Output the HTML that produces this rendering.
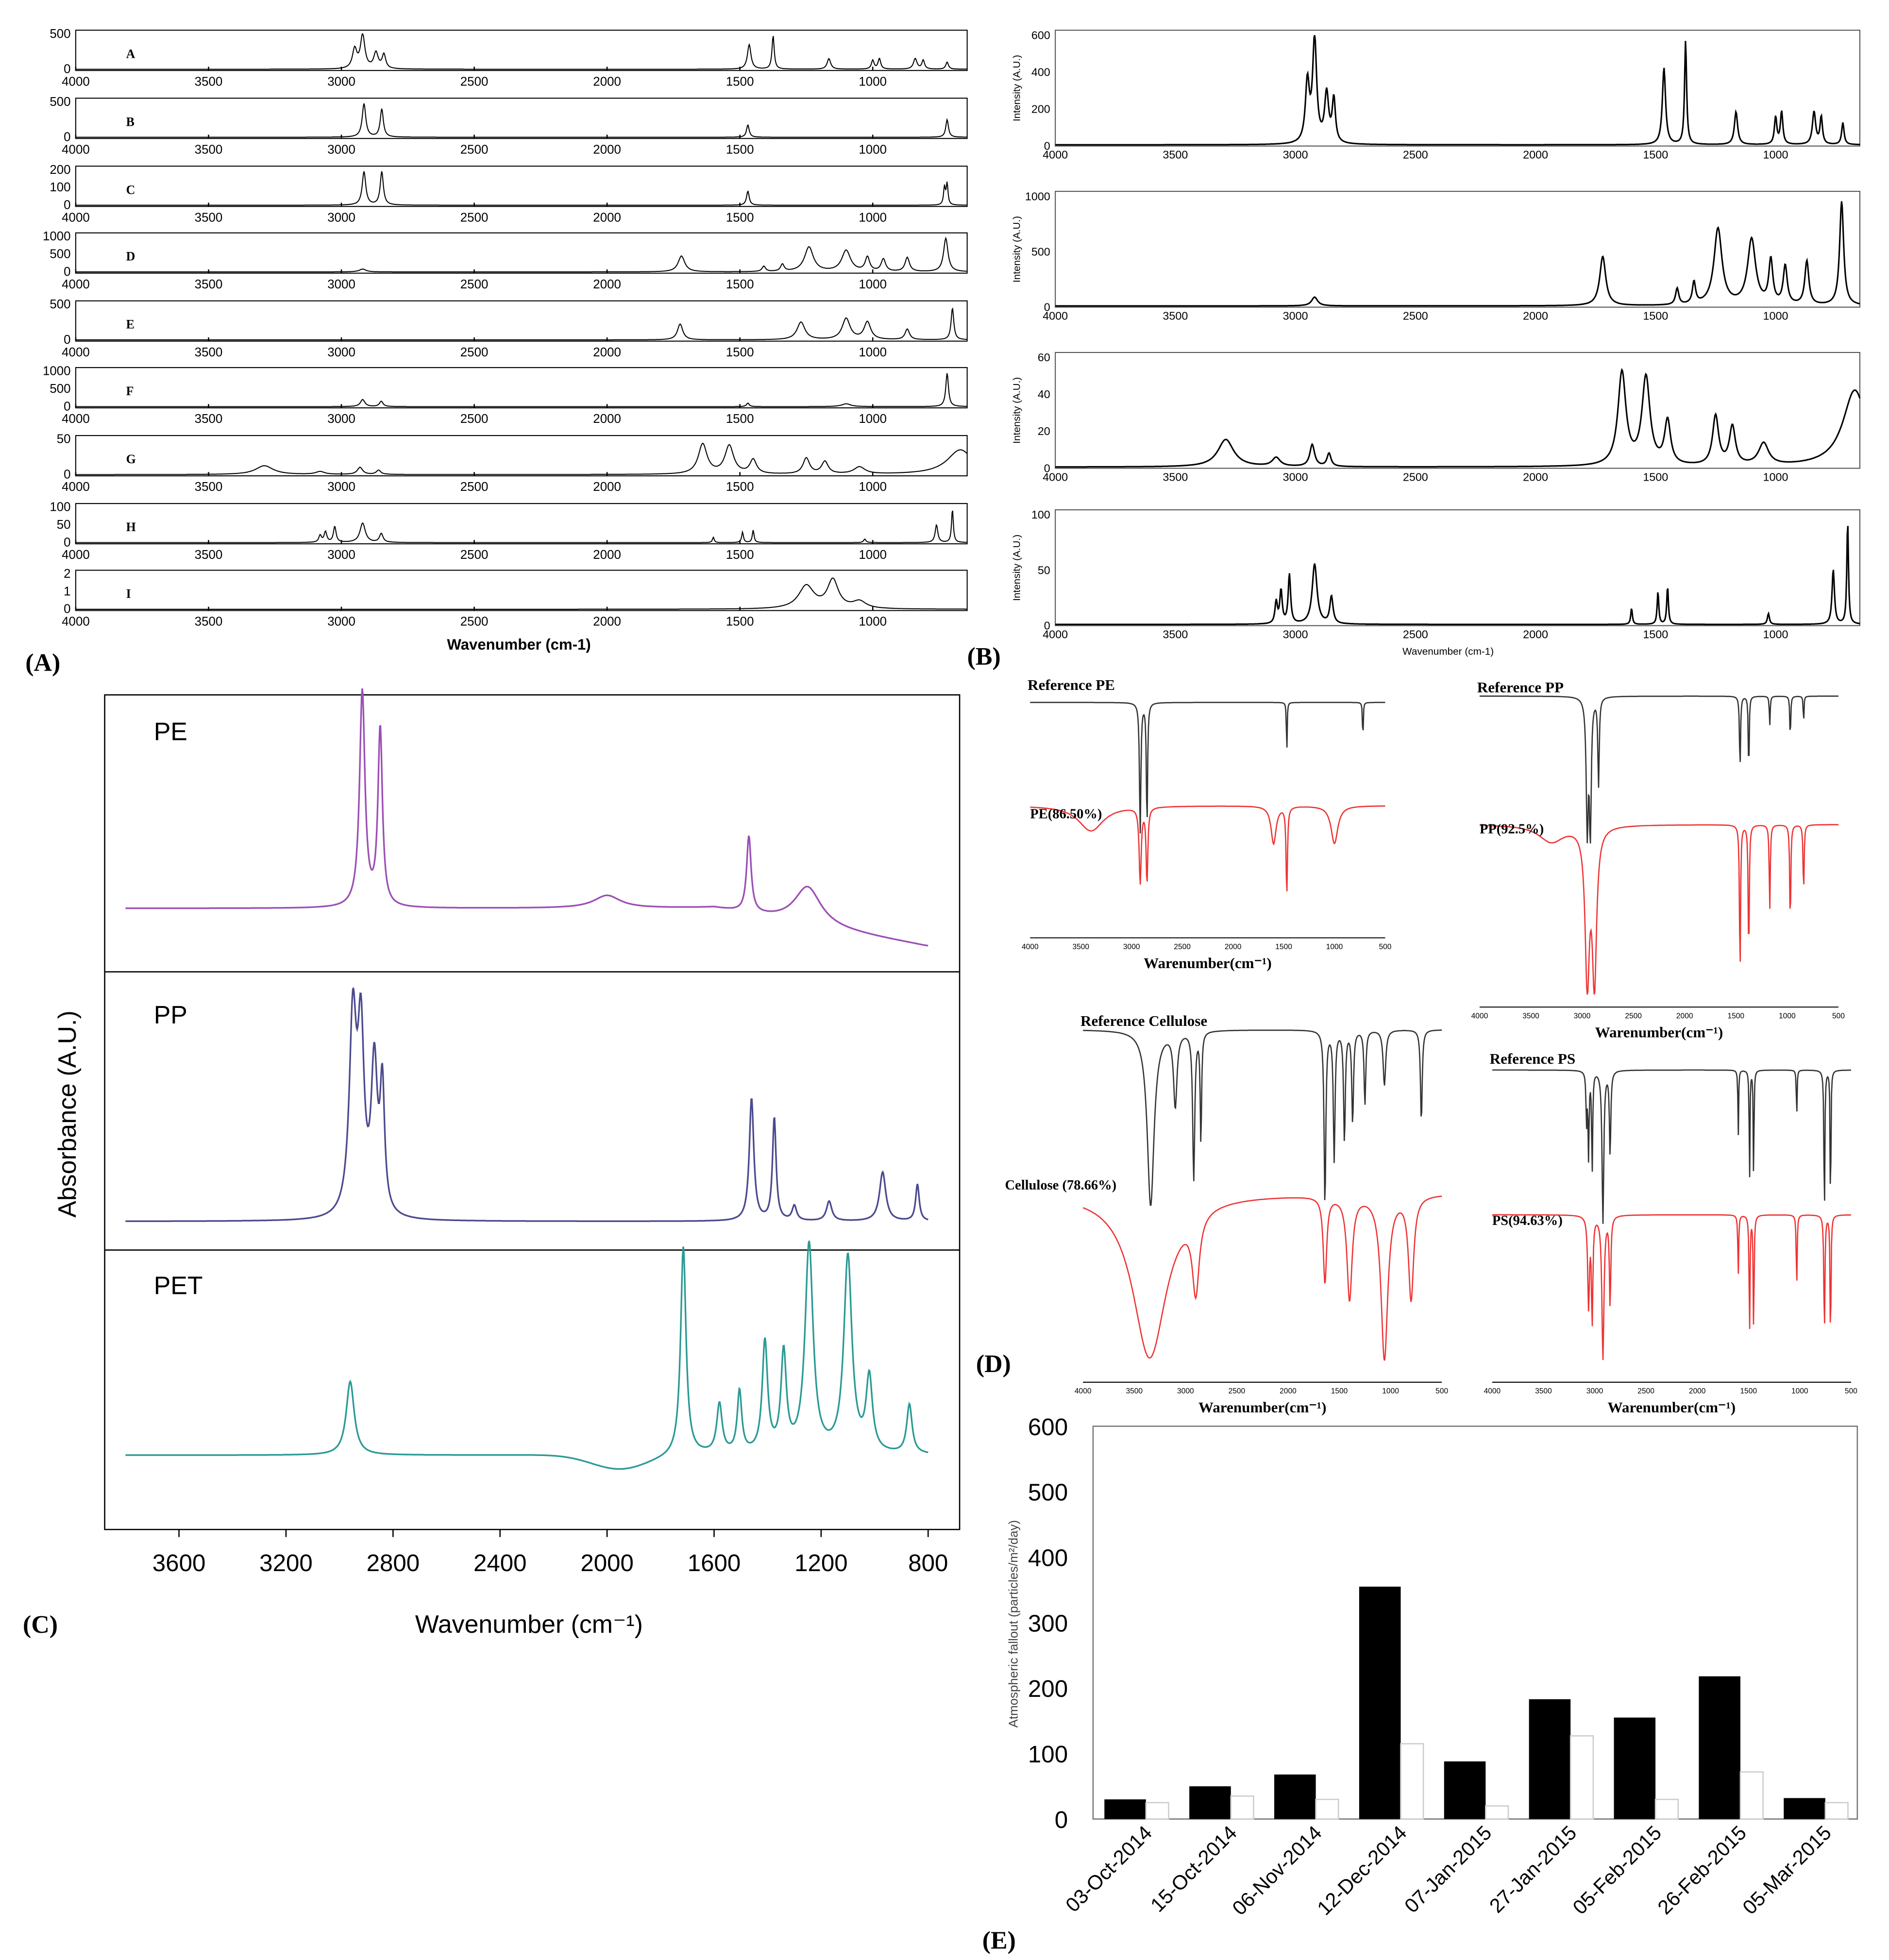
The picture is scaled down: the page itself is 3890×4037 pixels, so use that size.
<!DOCTYPE html>
<html><head><meta charset="utf-8">
<style>
html,body{margin:0;padding:0;background:#fff;}
svg{display:block;}
text{font-family:"Liberation Sans",sans-serif;}
.ser{font-family:"Liberation Serif",serif;font-weight:bold;}
</style></head>
<body>
<svg id="fig" width="3890" height="4037" viewBox="0 0 1500 1557" xmlns="http://www.w3.org/2000/svg">
<g id="root"></g>
</svg>
<script>
// ---------- DATA ----------
const specA = [[2950,0.55,10],[2920,0.95,10],[2870,0.45,10],[2840,0.4,8],[1465,0.7,8],[1375,0.95,5],[1165,0.3,8],[1000,0.25,6],[975,0.3,6],[840,0.3,8],[810,0.25,6],[720,0.2,6]];
const specB = [[2915,0.95,8],[2848,0.8,7],[1470,0.35,6],[720,0.5,6]];
const specC = [[2915,0.95,8],[2848,0.95,7],[1470,0.4,6],[730,0.5,4],[720,0.6,4]];
const specD = [[1720,0.45,15],[1410,0.15,8],[1340,0.2,8],[1240,0.7,20],[1100,0.6,20],[1020,0.4,10],[960,0.35,10],[870,0.4,10],[725,0.95,10],[2920,0.08,15]];
const specE = [[1725,0.45,12],[1270,0.5,18],[1100,0.6,18],[1020,0.5,15],[870,0.3,10],[700,0.9,6]];
const specF = [[2920,0.2,10],[2850,0.15,8],[1470,0.1,6],[1100,0.08,20],[720,0.95,6]];
const specG = [[3290,0.25,40],[3080,0.08,20],[2930,0.2,12],[2860,0.12,10],[1640,0.85,20],[1540,0.8,20],[1450,0.4,15],[1250,0.45,15],[1180,0.35,15],[1050,0.2,25],[670,0.7,60]];
const specH = [[3080,0.2,6],[3060,0.3,6],[3025,0.45,6],[2920,0.55,12],[2850,0.25,8],[1600,0.15,4],[1490,0.3,4],[1450,0.35,4],[1030,0.1,5],[760,0.5,6],[700,0.95,4]];
const specI = [[1250,0.65,35],[1150,0.8,25],[1050,0.2,30]];
const specListA = [specA,specB,specC,specD,specE,specF,specG,specH,specI];
const labelsA = ["A","B","C","D","E","F","G","H","I"];
const yTicksA = [["500","0"],["500","0"],["200","100","0"],["1000","500","0"],["500","0"],["1000","500","0"],["50","0"],["100","50","0"],["2","1","0"]];
const xTicksA = [4000,3500,3000,2500,2000,1500,1000];

const yTicksB = [[600,400,200,0],[1000,500,0],[60,40,20,0],[100,50,0]];
const specListB = [specA,specD,specG,specH];
const xTicksB = [4000,3500,3000,2500,2000,1500,1000];

const specPE = [[2915,0.85,12],[2848,0.7,10],[1470,0.3,10],[1250,0.15,60],[2000,0.05,60]];
const specPP = [[2950,0.8,16],[2920,0.7,14],[2870,0.6,14],[2840,0.5,10],[1460,0.5,10],[1375,0.42,8],[1300,0.06,10],[1170,0.08,12],[970,0.2,14],[840,0.15,8]];
const specPET = [[2960,0.3,18],[1715,0.85,12],[1580,0.2,12],[1505,0.25,10],[1410,0.45,12],[1340,0.4,12],[1245,0.85,18],[1100,0.8,18],[1020,0.3,14],[870,0.2,12]];
const xTicksC = [3600,3200,2800,2400,2000,1600,1200,800];

const refPE = [[2915,0.95,8],[2848,0.9,7],[1470,0.4,4],[720,0.3,4]];
const samPE = [[2915,0.6,12],[2848,0.6,10],[3400,0.2,150],[1470,0.7,8],[1600,0.3,30],[1000,0.3,40]];
const refPP = [[2950,0.9,12],[2920,0.95,10],[2840,0.6,8],[1460,0.5,6],[1375,0.55,5],[1170,0.2,5],[970,0.3,5],[840,0.2,4]];
const samPP = [[2950,0.9,25],[2880,0.9,25],[1460,0.9,6],[1375,0.8,6],[1170,0.5,6],[970,0.6,6],[840,0.4,6],[3300,0.1,150]];
const refCel = [[3340,0.95,40],[3100,0.4,20],[2920,0.8,12],[2850,0.6,8],[1640,0.95,10],[1550,0.7,10],[1450,0.6,10],[1370,0.5,10],[1250,0.4,10],[1060,0.3,15],[700,0.5,10]];
const samCel = [[3350,0.95,200],[2900,0.45,40],[1640,0.5,20],[1400,0.6,30],[1060,0.95,40],[800,0.6,30]];
const refPS = [[3080,0.3,6],[3060,0.5,6],[3025,0.6,6],[2920,0.9,10],[2850,0.5,8],[1600,0.4,4],[1490,0.7,4],[1450,0.7,4],[1030,0.3,4],[760,0.9,5],[700,0.95,4]];
const samPS = [[3060,0.6,10],[3025,0.7,8],[2920,0.95,12],[2850,0.6,8],[1600,0.4,5],[1490,0.8,5],[1450,0.8,5],[1030,0.5,5],[760,0.8,6],[700,0.9,5]];
const xTicksD = [4000,3500,3000,2500,2000,1500,1000,500];

const datesE = ["03-Oct-2014","15-Oct-2014","06-Nov-2014","12-Dec-2014","07-Jan-2015","27-Jan-2015","05-Feb-2015","26-Feb-2015","05-Mar-2015"];
const blackE = [30,50,68,355,88,183,155,218,32];
const whiteE = [25,35,30,115,20,127,30,72,25];
const yTicksE = [0,100,200,300,400,500,600];

// ---------- DRAW ----------
const NS="http://www.w3.org/2000/svg";
const root=document.getElementById('root');
function el(tag,attrs,parent,txt){const e=document.createElementNS(NS,tag);for(const k in attrs)e.setAttribute(k,attrs[k]);if(txt!==undefined)e.textContent=txt;(parent||root).appendChild(e);return e;}
function sumPeaks(w,peaks){let s=0;for(const p of peaks){const d=(w-p[0])/p[2];s+=p[1]/(1+d*d);}return Math.min(s,1.0);}
function specPath(x0,x1,w0,w1,yb,yt,peaks,base,invert){
  let d="";for(let x=x0;x<=x1;x+=0.5){const w=w0+(x-x0)/(x1-x0)*(w1-w0);let v=sumPeaks(w,peaks)+(base?base(w):0);
  const y=invert?yt+v*(yb-yt):yb-v*(yb-yt);d+=(x===x0?"M":"L")+x.toFixed(1)+","+y.toFixed(1);}return d;}

// Panel A
const gA=el('g',{});

const rowsA=[24,78,132,185,239,292,346,400,453];
const xA=w=>60+(4000-w)*0.211;
const wEndA=4000-(768-60)/0.211;
rowsA.forEach((y,i)=>{
  const g=el('g',{},gA);
  
  
  el('rect',{x:60,y:y,width:708,height:32,fill:'none',stroke:'#000','stroke-width':0.8},g);
  el('path',{d:specPath(60,768,4000,wEndA,y+31,y+3,specListA[i]),fill:'none',stroke:'#000','stroke-width':0.8},g);
  el('text',{x:100,y:y+22,'font-size':10,class:'ser'},g,labelsA[i]);
  const t=yTicksA[i];t.forEach((lab,j)=>{const yy=y+3+j*(28/(t.length-1));el('text',{x:56,y:yy+3,'font-size':10,'text-anchor':'end'},g,lab);});
  xTicksA.forEach(w=>{el('text',{x:xA(w),y:y+44,'font-size':10,'text-anchor':'middle'},g,w);el('line',{x1:xA(w),x2:xA(w),y1:y+32,y2:y+29,stroke:'#000'},g);});
});
el('text',{x:412,y:516,'font-size':12,'font-weight':'bold','text-anchor':'middle'},gA,'Wavenumber (cm-1)');
el('text',{x:20,y:533,'font-size':20,class:'ser'},gA,'(A)');

// Panel B
const gB=el('g',{});

const rowsB=[[24,116],[152,244],[280,372],[405,497]];
const xB=w=>838+(4000-w)*0.1907;
const wEndB=4000-(1477-838)/0.1907;
rowsB.forEach((r,i)=>{
  const g=el('g',{},gB);
  
  
  el('rect',{x:838,y:r[0],width:639,height:r[1]-r[0],fill:'none',stroke:'#555','stroke-width':0.8},g);
  const t=yTicksB[i],mx=t[0];
  el('path',{d:specPath(838,1477,4000,wEndB,r[1]-1,r[0]+4,specListB[i]),fill:'none',stroke:'#000','stroke-width':1.2},g);
  t.forEach(v=>{const yy=r[1]-v/mx*(r[1]-r[0]-4);el('text',{x:834,y:yy+3,'font-size':9,'text-anchor':'end'},g,v);});
  xTicksB.forEach(w=>el('text',{x:xB(w),y:r[1]+10,'font-size':9,'text-anchor':'middle'},g,w));
  el('text',{x:0,y:0,'font-size':8,'text-anchor':'middle',transform:`translate(810,${(r[0]+r[1])/2}) rotate(-90)`},g,'Intensity (A.U.)');
});
el('text',{x:1150,y:520,'font-size':8,'text-anchor':'middle'},gB,'Wavenumber (cm-1)');
el('text',{x:768,y:528,'font-size':20,class:'ser'},gB,'(B)');

// Panel C
const gC=el('g',{});

el('rect',{x:83,y:552,width:679,height:663,fill:'none',stroke:'#000','stroke-width':1},gC);
el('line',{x1:83,x2:762,y1:772,y2:772,stroke:'#000'},gC);
el('line',{x1:83,x2:762,y1:993,y2:993,stroke:'#000'},gC);
const xC=w=>142+(3600-w)*0.2125;
const cSpec=[[specPE,'#9b4fb5',762,560,'PE',w=>0.2-0.15*Math.max(0,(1600-w)/800)],[specPP,'#4b4a8e',980,785,'PP',w=>0.05],[specPET,'#2a9a94',1195,1000,'PET',w=>0.2-0.06*Math.exp(-Math.pow((w-1950)/150,2))]];
cSpec.forEach(s=>{
  const g=el('g',{},gC);
  
  
  el('path',{d:specPath(xC(3800),xC(800),3800,800,s[2],s[3],s[0],s[5]),fill:'none',stroke:s[1],'stroke-width':1.3},g);
  el('text',{x:122,y:s[3]+28,'font-size':20},g,s[4]);
});
xTicksC.forEach(w=>{el('line',{x1:xC(w),x2:xC(w),y1:1215,y2:1221,stroke:'#000'},gC);el('text',{x:xC(w),y:1248,'font-size':19,'text-anchor':'middle'},gC,w);});
el('text',{x:420,y:1297,'font-size':20,'text-anchor':'middle'},gC,'Wavenumber (cm⁻¹)');
el('text',{x:0,y:0,'font-size':20,'text-anchor':'middle',transform:'translate(60,885) rotate(-90)'},gC,'Absorbance (A.U.)');
el('text',{x:18,y:1297,'font-size':20,class:'ser'},gC,'(C)');

// Panel D
const gD=el('g',{});

const dPlots=[
 {x0:818,x1:1100,ref:refPE,sam:samPE,ry:[558,668],sy:[640,740],rt:'Reference PE',st:'PE(86.50%)',sty:650,ax:745,rty:548},
 {x0:1175,x1:1460,ref:refPP,sam:samPP,ry:[553,670],sy:[655,790],rt:'Reference PP',st:'PP(92.5%)',sty:662,ax:800,rty:550},
 {x0:860,x1:1145,ref:refCel,sam:samCel,ry:[818,965],sy:[948,1085],rt:'Reference Cellulose',st:'Cellulose (78.66%)',sty:945,ax:1098,rty:815},
 {x0:1185,x1:1470,ref:refPS,sam:samPS,ry:[850,985],sy:[965,1085],rt:'Reference PS',st:'PS(94.63%)',sty:973,ax:1098,rty:845}
];
dPlots.forEach((p,i)=>{
  const g=el('g',{},gD);
  
  
  el('path',{d:specPath(p.x0,p.x1,4000,500,p.ry[1],p.ry[0],p.ref,null,true),fill:'none',stroke:'#333','stroke-width':1},g);
  el('path',{d:specPath(p.x0,p.x1,4000,500,p.sy[1],p.sy[0],p.sam,null,true),fill:'none',stroke:'#e33','stroke-width':1},g);
  el('line',{x1:p.x0,x2:p.x1,y1:p.ax,y2:p.ax,stroke:'#000','stroke-width':0.8},g);
  xTicksD.forEach(w=>el('text',{x:p.x0+(4000-w)/3500*(p.x1-p.x0),y:p.ax+9,'font-size':6,'text-anchor':'middle'},g,w));
  el('text',{x:(p.x0+p.x1)/2,y:p.ax+24,'font-size':12,class:'ser','text-anchor':'middle'},g,'Warenumber(cm⁻¹)');
  el('text',{x:p.x0-2,y:p.rty,'font-size':12,class:'ser'},g,p.rt);
  el('text',{x:p.x0-(i==2?62:0),y:p.sty,'font-size':11,class:'ser'},g,p.st);
});
el('text',{x:775,y:1090,'font-size':20,class:'ser'},gD,'(D)');

// Panel E
const gE=el('g',{});

const ex0=868,ex1=1475,ey0=1445,ey1=1133;
const yE=v=>ey0-v/600*(ey0-ey1);
const gw=(ex1-ex0)/datesE.length;
el('rect',{x:ex0,y:ey1,width:ex1-ex0,height:ey0-ey1,fill:'none',stroke:'#777','stroke-width':1},gE);
yTicksE.forEach(v=>el('text',{x:848,y:yE(v)+7,'font-size':19,'text-anchor':'end'},gE,v));
datesE.forEach((d,i)=>{
  const gx=ex0+i*gw;
  const b=el('rect',{x:gx+9,y:yE(blackE[i]),width:33,height:ey0-yE(blackE[i]),fill:'#000'},gE);
  
  
  const w=el('rect',{x:gx+42,y:yE(whiteE[i]),width:18,height:ey0-yE(whiteE[i]),fill:'#fff',stroke:'#ccc','stroke-width':1},gE);
  
  
  el('text',{x:0,y:0,'font-size':16,'text-anchor':'end',transform:`translate(${gx+gw/2+14},${ey0+12}) rotate(-45)`},gE,d);
});
el('text',{x:0,y:0,'font-size':10,'text-anchor':'middle',fill:'#444',transform:'translate(808,1290) rotate(-90)'},gE,'Atmospheric fallout (particles/m²/day)');
el('text',{x:780,y:1548,'font-size':20,class:'ser'},gE,'(E)');
</script>
</body></html>
